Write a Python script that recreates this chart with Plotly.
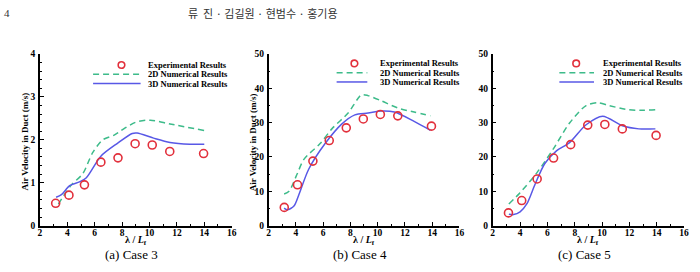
import plotly.graph_objects as go

# ---------------- data ----------------
exp_x = [3.15, 4.12, 5.25, 6.45, 7.7, 8.95, 10.2, 11.48, 13.95]

case3_exp = [0.52, 0.71, 0.95, 1.48, 1.58, 1.91, 1.88, 1.73, 1.68]
case4_exp = [5.3, 11.9, 18.8, 24.8, 28.5, 31.1, 32.4, 32.0, 29.0]
case5_exp = [3.7, 7.3, 13.6, 19.7, 23.6, 29.3, 29.5, 28.2, 26.3]

case3_2d_x = [3.35, 3.7, 4.3, 5.13, 5.85, 6.58, 7.42, 7.9, 8.98, 10.06, 11.5, 14.0]
case3_2d_y = [0.5, 0.68, 0.95, 1.21, 1.70, 2.0, 2.11, 2.21, 2.41, 2.46, 2.37, 2.22]
case3_3d_x = [3.18, 3.57, 4.17, 4.89, 5.37, 6.45, 7.66, 8.74, 9.1, 10.3, 11.5, 12.95, 14.0]
case3_3d_y = [0.66, 0.72, 0.93, 1.02, 1.11, 1.62, 1.92, 2.15, 2.16, 2.04, 1.94, 1.90, 1.90]

case4_2d_x = [3.14, 3.5, 4.1, 4.59, 5.8, 6.64, 7.85, 8.81, 9.3, 10.26, 11.47, 12.68, 13.88]
case4_2d_y = [9.2, 10.0, 15.1, 19.3, 24.0, 28.2, 32.9, 38.1, 37.9, 36.4, 34.3, 33.1, 32.0]
case4_3d_x = [3.14, 3.38, 3.86, 4.22, 4.95, 6.16, 7.36, 8.33, 9.3, 10.26, 11.23, 12.68, 13.88]
case4_3d_y = [5.1, 4.6, 5.7, 9.0, 16.5, 24.0, 29.6, 32.3, 32.8, 33.4, 33.1, 30.4, 27.8]

case5_2d_x = [3.18, 4.0, 5.21, 6.42, 7.62, 8.83, 9.68, 10.52, 11.73, 12.93, 13.9]
case5_2d_y = [6.3, 9.6, 15.3, 22.3, 29.9, 35.0, 35.8, 35.0, 33.9, 33.6, 33.8]
case5_3d_x = [3.18, 3.52, 4.0, 4.49, 5.09, 5.81, 6.66, 7.62, 8.83, 10.04, 11.49, 12.69, 13.9]
case5_3d_y = [3.3, 3.2, 4.0, 6.3, 12.0, 18.1, 21.8, 24.2, 29.4, 31.9, 29.1, 28.2, 28.2]

x_ticks = [2, 4, 6, 8, 10, 12, 14, 16]
y_ticks_a = [0, 1, 2, 3, 4]
y_ticks_bc = [0, 10, 20, 30, 40, 50]
panel_titles = ["(a) Case 3", "(b) Case 4", "(c) Case 5"]
legend_labels = ["Experimental Results", "2D Numerical Results", "3D Numerical Results"]
y_title = "Air Velocity in Duct (m/s)"
header = "류  진 · 김길원 · 현범수 · 홍기용"

# ---------------- styles ----------------
RED = "#e2303c"
GREEN = "#3dbb8a"
BLUE = "#5858e6"
SERIF = "Liberation Serif"

W, H = 700, 272
x_doms = [(38.3 / W, 232 / W), (269.3 / W, 462 / W), (495.7 / W, 689 / W)]
y_dom = ((272 - 229) / H, (272 - 51) / H)


def py(px):
    return (H - px) / H


fig = go.Figure()

cases = [
    (case3_exp, case3_2d_x, case3_2d_y, case3_3d_x, case3_3d_y, [0, 4], y_ticks_a),
    (case4_exp, case4_2d_x, case4_2d_y, case4_3d_x, case4_3d_y, [0, 50], y_ticks_bc),
    (case5_exp, case5_2d_x, case5_2d_y, case5_3d_x, case5_3d_y, [0, 50], y_ticks_bc),
]

for i, (ex, x2, y2, x3, y3, yr, yt) in enumerate(cases):
    sfx = "" if i == 0 else str(i + 1)
    xa, ya = "x" + sfx, "y" + sfx
    fig.add_trace(go.Scatter(x=x2, y=y2, mode="lines", xaxis=xa, yaxis=ya,
                             line=dict(color=GREEN, width=1.5, dash="6px,4px", shape="spline", smoothing=0.8),
                             showlegend=False))
    fig.add_trace(go.Scatter(x=x3, y=y3, mode="lines", xaxis=xa, yaxis=ya,
                             line=dict(color=BLUE, width=1.5, shape="spline", smoothing=0.8),
                             showlegend=False))
    fig.add_trace(go.Scatter(x=exp_x, y=ex, mode="markers", xaxis=xa, yaxis=ya,
                             marker=dict(symbol="circle-open", size=8, color=RED, line=dict(width=1.6, color=RED)),
                             showlegend=False))

    axis_common = dict(showline=True, linecolor="black", linewidth=1.5, ticks="inside", ticklen=4,
                       tickwidth=1, tickcolor="black", showgrid=False, zeroline=False,
                       tickfont=dict(family=SERIF, size=9.5, color="black", weight="bold"),
                       minor=dict(ticks="inside", ticklen=2, tickcolor="black"))
    fig.update_layout(**{
        ("xaxis" + sfx): dict(domain=list(x_doms[i]), range=[2, 16], tickvals=x_ticks,
                               anchor=ya, ticklabelstandoff=-3, **axis_common),
        ("yaxis" + sfx): dict(domain=list(y_dom), range=yr, tickvals=yt, anchor=xa,
                               ticklabelstandoff=1, **axis_common),
    })

    xd = x_doms[i]
    xref_dom = xa + " domain"

    def px_to_dom(px):
        return (px - xd[0] * W) / ((xd[1] - xd[0]) * W)

    # x axis label
    fig.add_annotation(text="λ / <i>L</i><sub>f</sub>", xref=xref_dom, yref="paper",
                       x=0.5, y=py(244.5), xanchor="center", yanchor="middle", showarrow=False,
                       font=dict(family=SERIF, size=10, color="black", weight="bold"))
    # panel caption
    fig.add_annotation(text=panel_titles[i], xref=xref_dom, yref="paper",
                       x=0.48, y=py(259), xanchor="center", yanchor="middle", showarrow=False,
                       font=dict(family=SERIF, size=13, color="black"))

    # legend (manual)
    leg = [(120.7, 62.3, 92, 140, 145), (356, 60.7, 338, 369, 380), (580, 60.7, 563, 598, 605)][i]
    mx, my, lx0, lx1, tx = leg
    rows = [my, my + 9.7, my + 19.2]
    fig.add_shape(type="circle", xref=xref_dom, yref="paper", xsizemode="pixel", ysizemode="pixel",
                  xanchor=px_to_dom(mx), yanchor=py(rows[0]), x0=-3.3, x1=3.3, y0=-3.3, y1=3.3,
                  line=dict(color=RED, width=1.6))
    fig.add_shape(type="line", xref=xref_dom, yref="paper", x0=px_to_dom(lx0), x1=px_to_dom(lx1),
                  y0=py(rows[1]), y1=py(rows[1]), line=dict(color=GREEN, width=1.5, dash="6px,4px"))
    fig.add_shape(type="line", xref=xref_dom, yref="paper", x0=px_to_dom(lx0), x1=px_to_dom(lx1),
                  y0=py(rows[2]), y1=py(rows[2]), line=dict(color=BLUE, width=1.5))
    for r, lab in zip(rows, legend_labels):
        fig.add_annotation(text=lab, xref=xref_dom, yref="paper", x=px_to_dom(tx), y=py(r),
                           xanchor="left", yanchor="middle", showarrow=False,
                           font=dict(family=SERIF, size=8.5, color="black", weight="bold"))

# y-axis titles (panel c title is cropped in the source)
for xc in [23, 253]:
    fig.add_annotation(text=y_title, xref="paper", yref="paper", x=xc / W, y=py(142),
                       xanchor="center", yanchor="middle", textangle=-90, showarrow=False,
                       font=dict(family=SERIF, size=9, color="black", weight="bold"))

# page header
fig.add_annotation(text=header, xref="paper", yref="paper", x=264 / W, y=py(8),
                   xanchor="center", yanchor="middle",
                   showarrow=False, font=dict(family="Noto Sans CJK KR", size=11, color="#333333"))
fig.add_annotation(text="4", xref="paper", yref="paper", x=0, y=py(8), xanchor="left", yanchor="middle",
                   showarrow=False, font=dict(family=SERIF, size=11, color="#333333"))

fig.update_layout(width=W, height=H, margin=dict(l=0, r=0, t=0, b=0),
                  paper_bgcolor="white", plot_bgcolor="white", showlegend=False)

fig.write_html("out.html")
